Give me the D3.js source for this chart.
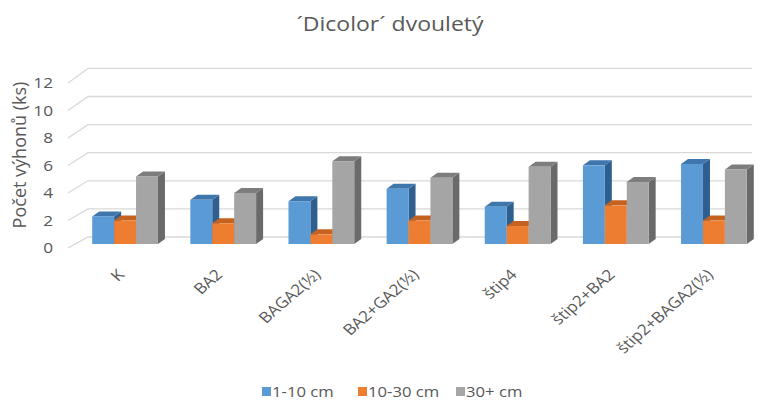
<!DOCTYPE html>
<html>
<head>
<meta charset="utf-8">
<script src="https://cdn.jsdelivr.net/npm/d3@7"></script>
<style>
  html, body { margin: 0; padding: 0; background: #fff; }
  text { font-family: "Open Sans", "Noto Sans", sans-serif; }
</style>
</head>
<body>
<svg id="chart" width="770" height="401"></svg>
<script>
const categories = ["K", "BA2", "BAGA2(½)", "BA2+GA2(½)", "štip4", "štip2+BA2", "štip2+BAGA2(½)"];
const seriesNames = ["1-10 cm", "10-30 cm", "30+ cm"];
const s1 = [2.0, 3.2, 3.1, 4.0, 2.7, 5.7, 5.8];
const s2 = [1.7, 1.5, 0.7, 1.7, 1.3, 2.8, 1.7];
const s3 = [4.9, 3.7, 6.0, 4.8, 5.6, 4.5, 5.4];
const yTicks = [0, 2, 4, 6, 8, 10, 12];
const title = "´Dicolor´ dvouletý";
const yTitle = "Počet výhonů (ks)";

const colors = [
  {front: "#5B9BD5", top: "#3F76AC", side: "#2F5F8F"},
  {front: "#ED7D31", top: "#C5621F", side: "#A9541A"},
  {front: "#A5A5A5", top: "#7D7D7D", side: "#6A6A6A"}
];
const series = [s1, s2, s3];

const svg = d3.select("#chart");
const textColor = "#595959";
const sx = 1.15; // horizontal stretch of the original picture's text

// scales
const yFront = d3.scaleLinear().domain([0, 12]).range([248, 83]);
const yBack = d3.scaleLinear().domain([0, 12]).range([237, 68.4]);
const yBar = d3.scaleLinear().domain([0, 12]).range([244, 244 - 12 * 13.8]);
const x = d3.scaleBand().domain(categories).range([76, 763]).paddingInner(0.33).paddingOuter(0.165);
const xs = d3.scaleBand().domain(seriesNames).range([0, x.bandwidth()]);

const wallLeftFront = 68, wallLeftBack = 88, wallRight = 752;

// gridlines
const grid = svg.append("g");
yTicks.forEach(t => {
  grid.append("path")
    .attr("d", `M${wallLeftFront},${yFront(t)} L${wallLeftBack},${yBack(t)} L${wallRight},${yBack(t)}`)
    .attr("fill", "none").attr("stroke", "#D9D9D9").attr("stroke-width", 1.3);
});

// y tick labels
svg.append("g").selectAll("text").data(yTicks).join("text")
  .attr("transform", d => `translate(53,${yFront(d)}) scale(${sx},1)`)
  .attr("dy", "0.35em")
  .attr("text-anchor", "end").attr("font-size", 15).attr("fill", textColor)
  .text(d => d);

// y title
svg.append("text")
  .attr("transform", `translate(26,155) rotate(-90)`)
  .attr("text-anchor", "middle").attr("font-size", 18).attr("fill", textColor)
  .text(yTitle);

// bars
const dx = 7, dy = -5;
const bars = svg.append("g");
categories.forEach((c, i) => {
  series.forEach((s, k) => {
    const x0 = x(c) + xs(seriesNames[k]);
    const w = xs.bandwidth();
    const yt = yBar(s[i]), yb = yBar(0);
    const col = colors[k];
    const g = bars.append("g");
    g.append("path")
      .attr("d", `M${x0 + w},${yt} L${x0 + w + dx},${yt + dy} L${x0 + w + dx},${yb + dy} L${x0 + w},${yb} Z`)
      .attr("fill", col.side);
    g.append("path")
      .attr("d", `M${x0},${yt} L${x0 + dx},${yt + dy} L${x0 + w + dx},${yt + dy} L${x0 + w},${yt} Z`)
      .attr("fill", col.top);
    g.append("rect")
      .attr("x", x0).attr("y", yt).attr("width", w).attr("height", yb - yt)
      .attr("fill", col.front);
  });
});

// category labels
svg.append("g").selectAll("text").data(categories).join("text")
  .attr("transform", d => `translate(${x(d) + x.bandwidth() / 2 - 4},${272}) scale(${sx},1) rotate(-45)`)
  .attr("text-anchor", "end").attr("dy", "0.35em")
  .attr("font-size", 15).attr("fill", textColor)
  .text(d => d);

// title
svg.append("text")
  .attr("transform", `translate(390,31) scale(${sx},1)`)
  .attr("text-anchor", "middle")
  .attr("font-size", 20).attr("fill", textColor)
  .text(title);

// legend
const legendX = [262, 358, 456];
const lg = svg.append("g");
seriesNames.forEach((n, k) => {
  lg.append("rect").attr("x", legendX[k]).attr("y", 387).attr("width", 9).attr("height", 9)
    .attr("fill", colors[k].front);
  lg.append("text")
    .attr("transform", `translate(${legendX[k] + 10},${392}) scale(${sx},1)`)
    .attr("dy", "0.35em")
    .attr("font-size", 14.5).attr("fill", textColor).text(n);
});
</script>
</body>
</html>
